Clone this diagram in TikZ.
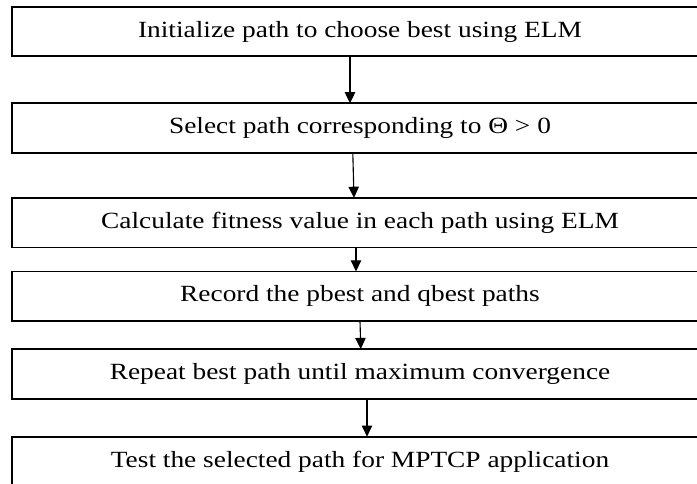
\documentclass[tikz,border=0pt]{standalone}
\usepackage{fontspec}
\setmainfont[FakeStretch=1.18]{Liberation Serif}
\usetikzlibrary{arrows.meta,positioning}

\tikzset{
  stepbox/.style={draw, line width=1.4pt, rectangle, outer sep=0pt,
                  minimum width=17.4cm, minimum height=1.24cm,
                  font=\fontsize{16.5}{20}\selectfont},
  flow/.style={line width=0.8pt, -{Triangle[length=0.28cm,width=0.26cm]}}
}

\begin{document}
\begin{tikzpicture}
   \clip (0,0) rectangle (17.425,-12.1);
   \node [stepbox] (init) at (9.0,-0.7875) {Initialize path to choose best using ELM};
   \node [stepbox] (select) [below=1.175cm of init] {Select path corresponding to Θ > 0};
   \node [stepbox] (fitness) [below=1.125cm of select] {Calculate fitness value in each path using ELM};
   \node [stepbox] (record) [below=0.6cm of fitness] {Record the pbest and qbest paths};
   \node [stepbox] (repeat) [below=0.7cm of record] {Repeat best path until maximum convergence};
   \node [stepbox] (test) [below=0.95cm of repeat] {Test the selected path for MPTCP application};
   % arrows sit a little off the middle
   \draw [flow, line width=1.1pt] ([xshift=-0.25cm]init.south) -- ([xshift=-0.25cm]select.north);
   \draw [flow] ([xshift=-0.18cm]select.south) -- ([xshift=-0.15cm]fitness.north);
   \draw [flow] ([xshift=-0.1cm]fitness.south) -- ([xshift=-0.1cm]record.north);
   \draw [flow] (record.south) -- ([xshift=0.02cm]repeat.north);
   \draw [flow] ([xshift=0.175cm]repeat.south) -- ([xshift=0.175cm]test.north);
\end{tikzpicture}
\end{document}
